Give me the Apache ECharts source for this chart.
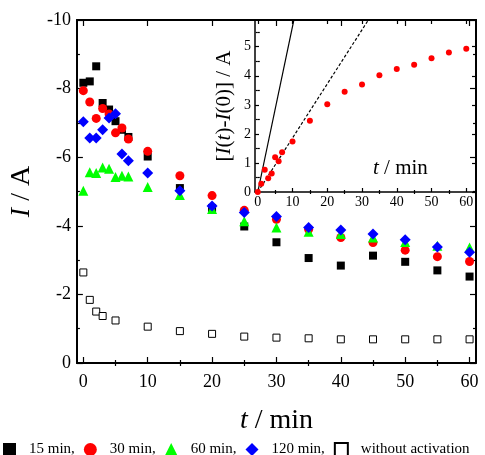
<!DOCTYPE html>
<html>
<head>
<meta charset="utf-8">
<script src="https://cdn.jsdelivr.net/npm/echarts@6/dist/echarts.min.js"></script>
<style>
  html, body { margin: 0; padding: 0; background: #fff; }
  #chart { width: 485px; height: 455px; }
</style>
</head>
<body>
<div id="chart"></div>
<script>
// Sampling times (min) for the activated electrodes
const times = [0, 1, 2, 3, 4, 5, 6, 7, 10, 15, 20, 25, 30, 35, 40, 45, 50, 55, 60];
// Current I (A) after 15, 30, 60 and 120 min of activation
const act15 = [-8.17, -8.21, -8.65, -7.58, -7.39, -7.05, -6.80, -6.59, -6.02, -5.10, -4.52, -3.98, -3.52, -3.06, -2.84, -3.13, -2.95, -2.70, -2.52];
const act30 = [-7.94, -7.61, -7.13, -7.42, -7.26, -6.71, -6.85, -6.53, -6.17, -5.46, -4.88, -4.45, -4.19, -3.90, -3.66, -3.51, -3.29, -3.10, -2.96];
const act60 = [-5.02, -5.56, -5.54, -5.70, -5.66, -5.42, -5.46, -5.44, -5.13, -4.90, -4.49, -4.13, -3.95, -3.83, -3.76, -3.66, -3.53, -3.42, -3.37];
const act120 = [-7.03, -6.56, -6.56, -6.80, -7.14, -7.27, -6.09, -5.90, -5.54, -5.02, -4.58, -4.39, -4.27, -3.95, -3.88, -3.76, -3.59, -3.38, -3.23];
// Electrode without activation
const timesRaw = [0, 1, 2, 3, 5, 10, 15, 20, 25, 30, 35, 40, 45, 50, 55, 60];
const noAct = [-2.64, -1.84, -1.50, -1.37, -1.24, -1.06, -0.93, -0.85, -0.77, -0.74, -0.72, -0.69, -0.69, -0.69, -0.69, -0.69];
// Inset: I(t) - I(0) for the 30 min electrode
const insetDiff = [0, 0.28, 0.77, 0.47, 0.64, 1.20, 1.06, 1.37, 1.74, 2.45, 3.02, 3.45, 3.70, 4.02, 4.23, 4.38, 4.60, 4.80, 4.93];
// Initial-rate guide lines in the inset (t, I(t)-I(0))
const fastLine = [[0, 0], [11, 6.27]];
const slowLine = [[0, 0], [33, 6.14]];
// Tick positions
const mainXTicks = [0, 10, 20, 30, 40, 50, 60];
const mainXMinor = [5, 15, 25, 35, 45, 55];
const insetYTicks = [0, 1, 2, 3, 4, 5];
const insetYMinor = [0.5, 1.5, 2.5, 3.5, 4.5, 5.5];
const legendNames = ['15 min,', '30 min,', '60 min,', '120 min,', 'without activation'];

const pair = (xs, ys) => xs.map((x, i) => [x, ys[i]]);
const FONT = 'Liberation Serif';
const ink = '#000';

function xAxisDef(grid, pos, min, max, ticks, len, labels, extra) {
  return Object.assign({
    type: 'value', gridIndex: grid, position: pos, min: min, max: max,
    axisLine: { show: true, onZero: false, lineStyle: { color: ink, width: grid === 0 ? 2 : 1.5 } },
    axisTick: { show: true, inside: true, length: len, customValues: ticks, lineStyle: { color: ink, width: 1.2 } },
    axisLabel: labels ? { show: true, customValues: ticks, color: ink, fontFamily: FONT, fontSize: grid === 0 ? 18 : 14, margin: grid === 0 ? 10 : 3 } : { show: false },
    splitLine: { show: false }
  }, extra || {});
}

const option = {
  backgroundColor: '#fff',
  animation: false,
  grid: [
    { left: 71, top: 20, width: 405, height: 343 },
    { left: 255, top: 20, width: 221, height: 172, backgroundColor: '#fff', show: true, borderWidth: 0 }
  ],
  legend: {
    left: 3, top: 442, padding: 0, itemWidth: 13, itemHeight: 13, itemGap: 9,
    data: legendNames,
    textStyle: { fontFamily: FONT, fontSize: 15, color: ink, padding: [0, 0, 0, 8] }
  },
  xAxis: [
    xAxisDef(0, 'bottom', -1, 61, mainXTicks, 6, true, {
      name: '{i|t} / min', nameLocation: 'middle', nameGap: 44,
      nameTextStyle: { fontFamily: FONT, fontSize: 28, color: ink, rich: { i: { fontStyle: 'italic', fontFamily: FONT, fontSize: 28 } } }
    }),
    xAxisDef(0, 'bottom', -1, 61, mainXMinor, 3, false, { axisLine: { show: false } }),
    xAxisDef(0, 'top', -1, 61, mainXTicks, 6, false),
    xAxisDef(0, 'top', -1, 61, mainXMinor, 3, false, { axisLine: { show: false } }),
    xAxisDef(1, 'bottom', -0.8, 62.8, mainXTicks, 4, true),
    xAxisDef(1, 'bottom', -0.8, 62.8, mainXMinor, 2, false, { axisLine: { show: false } }),
    xAxisDef(1, 'top', -0.8, 62.8, mainXTicks, 4, false),
    xAxisDef(1, 'top', -0.8, 62.8, mainXMinor, 2, false, { axisLine: { show: false } })
  ],
  yAxis: [
    {
      type: 'value', gridIndex: 0, position: 'left', min: -10, max: 0, interval: 2, inverse: true,
      axisLine: { show: true, onZero: false, lineStyle: { color: ink, width: 2 } },
      axisTick: { show: true, inside: true, length: 6, lineStyle: { color: ink, width: 1.2 } },
      minorTick: { show: true, splitNumber: 2, length: 3, lineStyle: { color: ink, width: 1.2 } },
      axisLabel: { color: ink, fontFamily: FONT, fontSize: 18, margin: 6 },
      splitLine: { show: false },
      name: '{i|I} / A', nameLocation: 'middle', nameGap: 38,
      nameTextStyle: { fontFamily: FONT, fontSize: 28, color: ink, rich: { i: { fontStyle: 'italic', fontFamily: FONT, fontSize: 28 } } }
    },
    {
      type: 'value', gridIndex: 0, position: 'right', min: -10, max: 0, interval: 2, inverse: true,
      axisLine: { show: true, onZero: false, lineStyle: { color: ink, width: 2 } },
      axisTick: { show: true, inside: true, length: 6, lineStyle: { color: ink, width: 1.2 } },
      minorTick: { show: true, splitNumber: 2, length: 3, lineStyle: { color: ink, width: 1.2 } },
      axisLabel: { show: false }, splitLine: { show: false }
    },
    {
      type: 'value', gridIndex: 1, position: 'left', min: 0, max: 5.92,
      axisLine: { show: true, onZero: false, lineStyle: { color: ink, width: 1.5 } },
      axisTick: { show: true, inside: true, length: 4, customValues: insetYTicks, lineStyle: { color: ink, width: 1.2 } },
      axisLabel: { customValues: insetYTicks, color: ink, fontFamily: FONT, fontSize: 14, margin: 4 },
      splitLine: { show: false },
      name: '[{i|I}({i|t})-{i|I}(0)] / A', nameLocation: 'middle', nameGap: 20,
      nameTextStyle: { fontFamily: FONT, fontSize: 21, color: ink, rich: { i: { fontStyle: 'italic', fontFamily: FONT, fontSize: 21 } } }
    },
    {
      type: 'value', gridIndex: 1, position: 'left', min: 0, max: 5.92,
      axisLine: { show: false },
      axisTick: { show: true, inside: true, length: 2, customValues: insetYMinor, lineStyle: { color: ink, width: 1.2 } },
      axisLabel: { show: false }, splitLine: { show: false }
    },
    {
      type: 'value', gridIndex: 1, position: 'right', min: 0, max: 5.92,
      axisLine: { show: true, onZero: false, lineStyle: { color: ink, width: 1.5 } },
      axisTick: { show: true, inside: true, length: 4, customValues: insetYTicks, lineStyle: { color: ink, width: 1.2 } },
      axisLabel: { show: false }, splitLine: { show: false }
    },
    {
      type: 'value', gridIndex: 1, position: 'right', min: 0, max: 5.92,
      axisLine: { show: false },
      axisTick: { show: true, inside: true, length: 2, customValues: insetYMinor, lineStyle: { color: ink, width: 1.2 } },
      axisLabel: { show: false }, splitLine: { show: false }
    }
  ],
  graphic: [
    {
      type: 'text', left: 373, top: 158, z: 100,
      style: {
        text: '{i|t} / min', fill: ink, font: '21px "Liberation Serif"',
        rich: { i: { fontStyle: 'italic', fontFamily: FONT, fontSize: 21 } }
      }
    }
  ],
  series: [
    {
      name: legendNames[0], type: 'scatter', xAxisIndex: 0, yAxisIndex: 0,
      symbol: 'rect', symbolSize: 8, itemStyle: { color: '#000', opacity: 1 }, data: pair(times, act15)
    },
    {
      name: legendNames[1], type: 'scatter', xAxisIndex: 0, yAxisIndex: 0,
      symbol: 'circle', symbolSize: 9, itemStyle: { color: '#ff0000', opacity: 1 }, data: pair(times, act30)
    },
    {
      name: legendNames[2], type: 'scatter', xAxisIndex: 0, yAxisIndex: 0,
      symbol: 'triangle', symbolSize: 10, itemStyle: { color: '#00ff00', opacity: 1 }, data: pair(times, act60)
    },
    {
      name: legendNames[3], type: 'scatter', xAxisIndex: 0, yAxisIndex: 0,
      symbol: 'diamond', symbolSize: 11, itemStyle: { color: '#0000ff', opacity: 1 }, data: pair(times, act120)
    },
    {
      name: legendNames[4], type: 'scatter', xAxisIndex: 0, yAxisIndex: 0,
      symbol: 'rect', symbolSize: 7, itemStyle: { color: '#fff', borderColor: '#000', borderWidth: 1, opacity: 1 }, data: pair(timesRaw, noAct)
    },
    {
      type: 'line', xAxisIndex: 4, yAxisIndex: 2, symbol: 'none', clip: true,
      lineStyle: { color: '#000', width: 1.2, type: 'solid' }, data: fastLine, z: 3
    },
    {
      type: 'line', xAxisIndex: 4, yAxisIndex: 2, symbol: 'none', clip: true,
      lineStyle: { color: '#000', width: 1.2, type: [3, 2] }, data: slowLine, z: 3
    },
    {
      type: 'scatter', xAxisIndex: 4, yAxisIndex: 2, symbol: 'circle', symbolSize: 6,
      itemStyle: { color: '#ff0000', opacity: 1 }, data: pair(times, insetDiff), z: 4
    }
  ]
};

const chart = echarts.init(document.getElementById('chart'), null, { renderer: 'canvas' });
chart.setOption(option);
</script>
</body>
</html>
